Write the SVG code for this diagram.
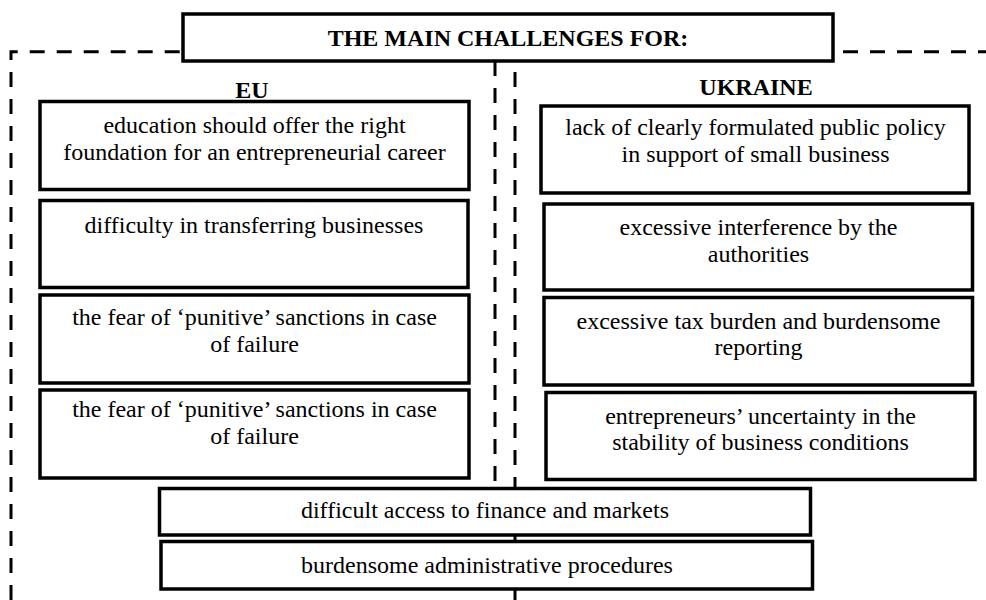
<svg xmlns="http://www.w3.org/2000/svg" width="986" height="600" viewBox="0 0 986 600">
<style>
.box{fill:#fff;stroke:#000;stroke-width:3.5}
.dash{fill:none;stroke:#000;stroke-width:3;stroke-dasharray:15 12}
text{font-family:"Liberation Serif","Times New Roman",serif;font-size:24px;fill:#000;text-anchor:middle}
.b{font-weight:bold}
</style>
<rect width="986" height="600" fill="#fff"/>
<g id="connectors">
<path class="dash" d="M11 600 V51.7 H183"/>
<path class="dash" d="M843 51.7 H986"/>
<path class="dash" d="M495 61 V600"/>
<path class="dash" d="M515 72 V600"/>
</g>
<g id="title">
<rect class="box" x="183" y="14" width="650" height="47"/>
<text class="b" x="508" y="46">THE MAIN CHALLENGES FOR:</text>
</g>
<g id="eu-label"><text class="b" x="252" y="98">EU</text></g>
<g id="ukraine-label"><text class="b" x="756" y="95">UKRAINE</text></g>
<g id="eu1">
<rect class="box" x="40" y="101.5" width="429" height="88"/>
<text x="254.5" y="133">education should offer the right</text>
<text x="254.5" y="160">foundation for an entrepreneurial career</text>
</g>
<g id="eu2">
<rect class="box" x="40" y="200.5" width="428" height="87"/>
<text x="254" y="232.5">difficulty in transferring businesses</text>
</g>
<g id="eu3">
<rect class="box" x="40" y="295" width="429" height="88"/>
<text x="254.5" y="325">the fear of ‘punitive’ sanctions in case</text>
<text x="254.5" y="352">of failure</text>
</g>
<g id="eu4">
<rect class="box" x="40" y="390" width="429" height="88"/>
<text x="254.5" y="416.5">the fear of ‘punitive’ sanctions in case</text>
<text x="254.5" y="444">of failure</text>
</g>
<g id="ua1">
<rect class="box" x="541" y="106" width="428" height="87"/>
<text x="755.5" y="135">lack of clearly formulated public policy</text>
<text x="755.5" y="162">in support of small business</text>
</g>
<g id="ua2">
<rect class="box" x="544" y="204" width="428.5" height="86"/>
<text x="758.5" y="235">excessive interference by the</text>
<text x="758.5" y="261.5">authorities</text>
</g>
<g id="ua3">
<rect class="box" x="544" y="297.5" width="428.5" height="87.5"/>
<text x="758.5" y="328.5">excessive tax burden and burdensome</text>
<text x="758.5" y="355">reporting</text>
</g>
<g id="ua4">
<rect class="box" x="546" y="392.5" width="429" height="87"/>
<text x="760.5" y="423.5">entrepreneurs’ uncertainty in the</text>
<text x="760.5" y="450">stability of business conditions</text>
</g>
<g id="common1">
<rect class="box" x="159.5" y="488.5" width="651" height="46.5"/>
<text x="485" y="518">difficult access to finance and markets</text>
</g>
<g id="common2">
<rect class="box" x="161" y="541.5" width="651.5" height="47.5"/>
<text x="487" y="572.5">burdensome administrative procedures</text>
</g>
</svg>
